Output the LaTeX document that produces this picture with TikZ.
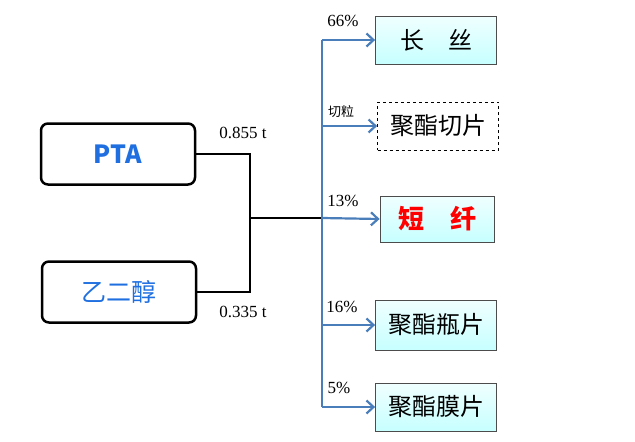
\documentclass[tikz,border=0pt]{standalone}
\usepackage{fontspec}
\setmainfont{Liberation Serif}
\newfontfamily\cjk{Noto Sans CJK SC}
\usetikzlibrary{arrows.meta}
\definecolor{steel}{HTML}{4A7EBB}
\definecolor{ptablue}{HTML}{1F6FE0}
\begin{document}
\begin{tikzpicture}[x=1pt,y=-1pt,
 src/.style={draw=black,line width=2.5pt,rounded corners=7pt,minimum width=154pt,minimum height=61pt,font=\cjk\fontsize{25}{28}\selectfont\bfseries,text=ptablue},
 prod/.style={draw=black!70,line width=0.8pt,top color=cyan!6,bottom color=cyan!22,minimum width=121pt,minimum height=48pt,font=\cjk\fontsize{24}{26}\selectfont},
 arr/.style={draw=steel,line width=2.2pt,-{Straight Barb[length=7pt,width=13pt]}},
 lab/.style={font=\fontsize{17}{19}\selectfont}]
\useasboundingbox (0,0) rectangle (635,442);
\node[src] (pta) at (118,154) {PTA};
\node[src,font=\cjk\fontsize{25}{28}\selectfont] (eg) at (119,292) {乙二醇};
\node[prod] (p1) at (436,40) {长\quad 丝};
\node[prod,draw=black,dashed,line width=0.7pt,top color=white,bottom color=white] (p2) at (438,126) {聚酯切片};
\node[prod,minimum width=114pt,minimum height=46pt,font=\cjk\fontsize{26}{28}\selectfont\bfseries,text=red] (p3) at (437,219) {短\quad 纤};
\node[prod,minimum height=50pt] (p4) at (436,325) {聚酯瓶片};
\node[prod] (p5) at (436,407) {聚酯膜片};
\coordinate (j) at (250,218);
\coordinate (b) at (322,218);
\draw[line width=2.5pt] (pta.east) -| (j) |- (eg.east);
\draw[line width=2.5pt] (j) -- (b);
\coordinate (t) at (322,40);
\coordinate (bt) at (322,407);
\draw[draw=steel,line width=2.2pt] (t) -- (bt);
\draw[arr] (t) -- (p1.west);
\draw[arr] (322,|-p2.west) -- (p2.west);
\draw[arr] (b) -- (p3.west);
\draw[arr] (322,|-p4.west) -- (p4.west);
\draw[arr] (bt) -- (p5.west);
\node[lab] (l1) at (343,21) {66\%};
\node[font=\cjk\fontsize{13}{14}\selectfont] (l2) at (341,112) {切粒};
\node[lab] (l3) at (343,201) {13\%};
\node[lab] (l4) at (342,307) {16\%};
\node[lab] (l5) at (339,388) {5\%};
\node[lab] (w1) at (243,133) {0.855 t};
\node[lab] (w2) at (243,312) {0.335 t};
\end{tikzpicture}
\end{document}
